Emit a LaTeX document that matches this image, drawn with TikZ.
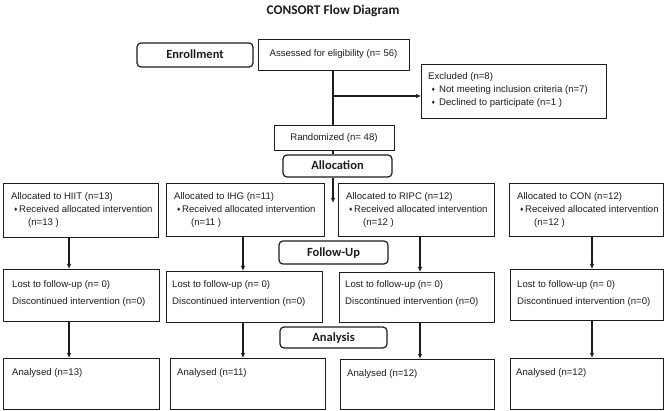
\documentclass[tikz,border=0pt]{standalone}
\usepackage{fontspec}
\setmainfont{Liberation Sans}
\newfontfamily\headf{Carlito}
\newfontfamily\symf{DejaVu Sans}
\usetikzlibrary{arrows.meta}
\definecolor{ink}{HTML}{1C1C1C}
\newcommand\dmd{\raisebox{1.2pt}{\symf\fontsize{5}{5}\selectfont ♦}}
\newcommand\bx[5]{\node[box, minimum width=#4pt, minimum height=#5pt] (#1) at (#2,#3) {};}
\newcommand\alo[4]{%
 \node[txt] (#1a) at (#2+8,199.5) {Allocated to #3 (n=#4)};
 \node[txt] (#1b) at (#2+10.5,212.5) {\dmd};
 \node[txt] (#1c) at (#2+16,212.5) {Received allocated intervention};
 \node[txt] (#1d) at (#2+25,225.5) {(n=#4 )};}
\newcommand\ltf[3]{%
 \node[txt] (#1a) at (#2+#3,288) {Lost to follow-up (n= 0)};
 \node[txt] (#1b) at (#2+#3,304.5) {Discontinued intervention (n=0)};}
\begin{document}
\begin{tikzpicture}[x=1pt,y=-1pt,
  box/.style={draw=ink, line width=1.2pt, inner sep=0pt, anchor=north west},
  hbox/.style={draw=ink, line width=1.2pt, rounded corners=4pt, inner sep=0pt,
    font=\headf\bfseries\fontsize{12.5}{14}\selectfont, text=ink, text height=8pt, text depth=0pt},
  txt/.style={anchor=base west, inner sep=0pt, font=\fontsize{9.6}{12}\selectfont, text=ink},
  arr/.style={draw=ink, line width=1.1pt, -{Latex[length=5pt,width=4.5pt]}},
  ln/.style={draw=ink, line width=1.1pt}]
\useasboundingbox (0,0) rectangle (666,411);

% title
\node[anchor=base, inner sep=0pt, font=\headf\bfseries\fontsize{13.3}{15}\selectfont, text=ink] (title) at (333,14.3) {CONSORT Flow Diagram};

% phase labels
\node[hbox, minimum width=116pt, minimum height=24pt] (enr) at (195,55) {Enrollment};
\node[hbox, minimum width=109pt, minimum height=22pt] (alloc) at (337.5,166) {Allocation};
\node[hbox, minimum width=109pt, minimum height=23pt] (fol) at (333.5,252.5) {Follow-Up};
\node[hbox, minimum width=107pt, minimum height=21pt] (ana) at (333.5,337.5) {Analysis};

% boxes
\bx{assess}{258}{39}{151}{31}
\bx{excl}{421}{64}{185}{54}
\bx{rand}{274}{125}{120}{25}
\bx{hiit}{3}{183}{155}{54}
\bx{ihg}{166}{183}{158}{53}
\bx{ripc}{338}{183}{156}{53}
\bx{con}{509}{183}{154}{53}
\bx{hiitf}{3}{269}{156}{52}
\bx{ihgf}{166}{271}{156}{51}
\bx{ripcf}{339}{272}{155}{50}
\bx{conf}{510}{269}{153}{51}
\bx{hiita}{3}{358}{156}{51}
\bx{ihga}{170}{358}{155}{51}
\bx{ripca}{340}{359}{154}{50}
\bx{cona}{510}{358}{153}{51}

% texts
\node[txt, anchor=base] (assesst) at (333.5,56.5) {Assessed for eligibility (n= 56)};
\node[txt, anchor=base] (randt) at (334,141) {Randomized (n= 48)};
\node[txt] (ex1) at (428,79.5) {Excluded (n=8)};
\node[txt] (ex2b) at (431,92.5) {\dmd};
\node[txt] (ex2) at (439,92.5) {Not meeting inclusion criteria (n=7)};
\node[txt] (ex3b) at (431,105.5) {\dmd};
\node[txt] (ex3) at (439,105.5) {Declined to participate (n=1 )};

\alo{ta}{3}{HIIT}{13}
\alo{tb}{166}{IHG}{11}
\alo{tc}{338}{RIPC}{12}
\alo{td}{509}{CON}{12}

\ltf{fa}{3}{9}
\ltf{fb}{166}{6}
\ltf{fc}{339}{6}
\ltf{fd}{510}{7}

\node[txt] (aa) at (12,375.5) {Analysed (n=13)};
\node[txt] (ab) at (177,375.5) {Analysed (n=11)};
\node[txt] (ac) at (347,376) {Analysed (n=12)};
\node[txt] (ad) at (516,375.5) {Analysed (n=12)};

% connectors
\coordinate (cx) at (333,0);
\coordinate (j1) at (333,96);
\coordinate (t0) at (333,203);
\draw[ln] (assess.south -| cx) -- (rand.north -| cx);
\draw[arr] (j1) -- (j1 -| excl.west);
\draw[ln] (rand.south -| cx) -- (alloc.north -| cx);
\draw[arr] (alloc.south -| cx) -- (t0);

\coordinate (xa) at (69,0);
\coordinate (xb) at (243,0);
\coordinate (xc) at (420,0);
\coordinate (xd) at (592,0);
\draw[arr] (hiit.south -| xa) -- (hiitf.north -| xa);
\draw[arr] (ihg.south -| xb) -- (ihgf.north -| xb);
\draw[arr] (ripc.south -| xc) -- (ripcf.north -| xc);
\draw[arr] (con.south -| xd) -- (conf.north -| xd);
\draw[arr] (hiitf.south -| xa) -- (hiita.north -| xa);
\draw[arr] (ihgf.south -| xb) -- (ihga.north -| xb);
\draw[arr] (ripcf.south -| xc) -- (ripca.north -| xc);
\draw[arr] (conf.south -| xd) -- (cona.north -| xd);
\end{tikzpicture}
\end{document}
